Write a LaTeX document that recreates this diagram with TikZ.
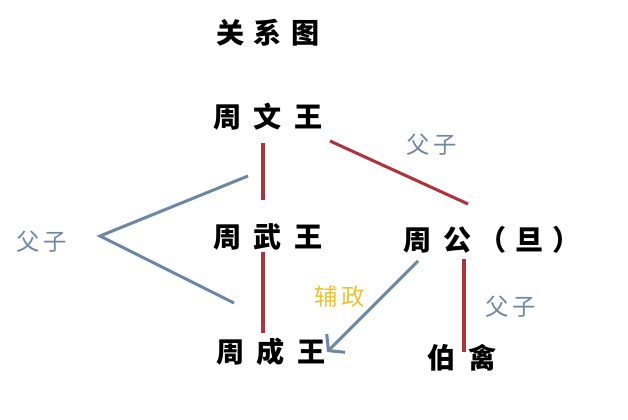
\documentclass[tikz,border=0pt]{standalone}
\usepackage{fontspec}
\newfontfamily\cjk{Noto Sans CJK SC}
\usetikzlibrary{arrows.meta,positioning}
\definecolor{kinred}{RGB}{175,50,60}
\definecolor{tagblue}{RGB}{110,135,165}
\definecolor{helpgold}{RGB}{235,195,50}

\begin{document}
\begin{tikzpicture}
  [x=0.03cm,y=-0.03cm,
   ruler/.style={font=\cjk\bfseries\fontsize{24}{28}\selectfont,text height=21pt,text depth=3pt,inner sep=2pt},
   tag/.style={font=\cjk\fontsize{20}{24}\selectfont,text=tagblue,inner sep=1pt},
   kin/.style={draw=kinred,line width=2.6pt},
   link/.style={draw=tagblue,line width=2.6pt}]
  \useasboundingbox (0,0) rectangle (628,419);
  \node[ruler] (title) at (268,33) {关\hspace{.34em}系\hspace{.34em}图};
  \node[ruler] (wen) at (268,117) {周\hspace{.45em}文\hspace{.45em}王};
  \node[ruler] (wu) at (268,237) {周\hspace{.45em}武\hspace{.45em}王};
  \node[ruler] (cheng) at (271,352) {周\hspace{.45em}成\hspace{.45em}王};
  \node[ruler] (gong) at (492,240) {周\hspace{.42em}公\hspace{.25em}（\hspace{.3em}旦\hspace{.3em}）};
  \node[ruler] (boqin) at (462,358) {伯\hspace{.48em}禽};
  \node[tag] (tagtop) at (432,145) {父\hspace{.15em}子};
  \node[tag] (tagleft) at (42,242) {父\hspace{.15em}子};
  \node[tag] (tagright) at (511,307) {父\hspace{.15em}子};
  \node[tag,text=helpgold] (help) at (340,297) {辅\hspace{.15em}政};
  \coordinate (fork) at (100,236);
  \coordinate (forkup) at (248,176);
  \coordinate (forklow) at (234,303);
  \draw [kin] ([shift={(-5,26)}]wen.center) -- ([shift={(-5,-37)}]wu.center);
  \draw [kin] ([shift={(-5,15)}]wu.center) -- ([shift={(-8,-19)}]cheng.center);
  \draw [kin] ([shift={(62,24)}]wen.center) -- ([shift={(-24,-36)}]gong.center);
  \draw [kin] ([shift={(-28,19)}]gong.center) -- ([shift={(2,-6)}]boqin.center);
  \draw [link] (forkup) -- (fork) -- (forklow);
  \draw [link,-{Straight Barb[length=9pt,width=22pt]}] ([shift={(-74,21)}]gong.center) -- ([shift={(56,0)}]cheng.center);
\end{tikzpicture}
\end{document}
